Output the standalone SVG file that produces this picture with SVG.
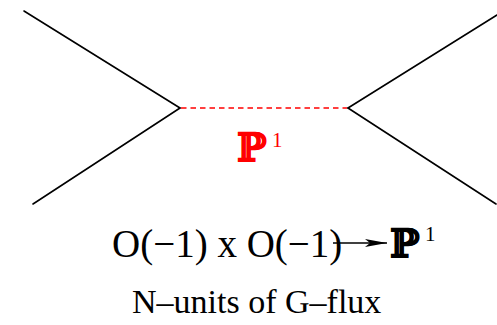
<svg xmlns="http://www.w3.org/2000/svg" width="497" height="325" viewBox="0 0 497 325">
<style>
.leg{stroke:#000;stroke-width:1.6;fill:none;stroke-linecap:round}
.t{font-family:"Liberation Serif","Times New Roman",serif;fill:#000}
.bb{font-family:"DejaVu Serif","Liberation Serif",serif;font-weight:bold;stroke-width:0.8}
.red{fill:#ff0000}
</style>
<defs>
<marker id="ah" markerWidth="22" markerHeight="10" refX="22" refY="5" orient="auto" markerUnits="userSpaceOnUse">
<path d="M0,1 L22,5 L0,9 L5,5 Z" fill="#000"/>
</marker>
</defs>
<rect width="497" height="325" fill="#fff"/>
<g id="connectors">
<line class="leg" x1="24" y1="11" x2="180" y2="108"/>
<line class="leg" x1="180" y1="108" x2="33" y2="204"/>
<line class="leg" x1="348" y1="108" x2="497" y2="15"/>
<line class="leg" x1="348" y1="108" x2="496" y2="204"/>
<line x1="181" y1="108" x2="347" y2="108" stroke="#ff0000" stroke-width="1.6" stroke-dasharray="5.5,4"/>
<line x1="333" y1="243" x2="387" y2="243" stroke="#000" stroke-width="1.4" marker-end="url(#ah)"/>
</g>
<g id="p1-label">
<text x="237" y="161" class="t bb red" font-size="39" stroke="#ff0000">ℙ</text>
<text x="272" y="147" class="t red" font-size="21">1</text>
</g>
<g id="bundle-label">
<text x="112" y="257" class="t" font-size="39">O(−1) x O(−1)</text>
<text x="390" y="257" class="t bb" font-size="39" stroke="#000">ℙ</text>
<text x="425" y="241" class="t" font-size="21">1</text>
</g>
<g id="flux-label">
<text x="132" y="313" class="t" font-size="34">N–units of G–flux</text>
</g>
</svg>
